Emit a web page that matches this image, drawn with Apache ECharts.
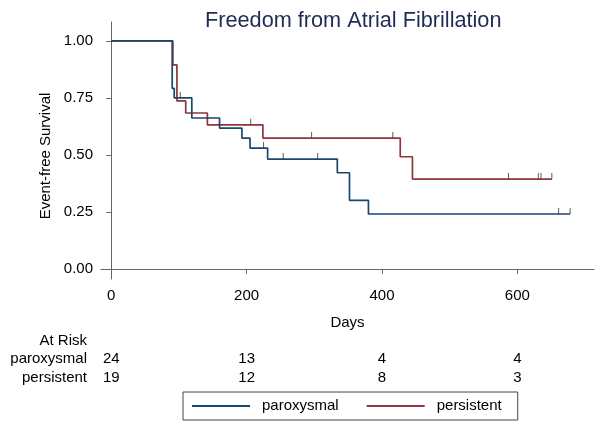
<!DOCTYPE html>
<html>
<head>
<meta charset="utf-8">
<script src="https://cdn.jsdelivr.net/npm/echarts@6/dist/echarts.min.js"></script>
<style>
html,body{margin:0;padding:0;background:#fff;}
#chart{width:601px;height:428px;}
</style>
</head>
<body>
<div id="chart"></div>
<script>
// ---- data ----
var paroxysmalSteps = [[0,1.0],[90,0.792],[93,0.75],[119,0.662],[160,0.618],[193,0.574],[205,0.530],[231,0.482],[334,0.422],[352,0.301],[380,0.241],[678,0.241]];
var persistentSteps = [[0,1.0],[91,0.895],[97,0.737],[110,0.684],[142,0.632],[224,0.574],[427,0.492],[445,0.394],[651,0.394]];
var paroxysmalCensored = [[102,0.75],[225,0.530],[254,0.482],[305,0.482],[661,0.241],[678,0.241]];
var persistentCensored = [[206,0.632],[296,0.574],[416,0.574],[587,0.394],[631,0.394],[635,0.394],[651,0.394]];
var xTicks = [0,200,400,600];
var yTicks = [0,0.25,0.5,0.75,1.0];
var atRiskTimes = [0,200,400,600];
var atRiskParoxysmal = [24,13,4,4];
var atRiskPersistent = [19,12,8,3];

var BLUE = '#1a476f', RED = '#90353b';
var FONT = 'Liberation Sans, Arial, sans-serif';

var chart = echarts.init(document.getElementById('chart'), null, {renderer:'canvas'});
var option = {
  backgroundColor:'#fff',
  animation:false,
  title:{text:'Freedom from Atrial Fibrillation', left:200, top:5,
    textStyle:{fontFamily:FONT, fontSize:21.7, fontWeight:'normal', color:'#1f2d55'}},
  grid:{left:101, right:7, top:22, bottom:149},
  legend:{
    data:[{name:'paroxysmal', icon:'rect'},{name:'persistent', icon:'rect'}],
    left:183, top:392, orient:'horizontal',
    borderColor:'#444', borderWidth:1, borderRadius:0,
    padding:[6,16,6,9], itemWidth:58, itemHeight:2, itemGap:28,
    textStyle:{fontFamily:FONT, fontSize:15, color:'#000', padding:[0,0,0,7], lineHeight:16}
  },
  xAxis:{type:'value', min:-15.2, max:713.3,
    name:'Days', nameLocation:'middle', nameGap:36,
    nameTextStyle:{fontFamily:FONT, fontSize:15, color:'#000'},
    axisLine:{show:true, lineStyle:{color:'#666', width:1}},
    axisTick:{show:true, customValues:xTicks, length:5, lineStyle:{color:'#666'}},
    axisLabel:{customValues:xTicks, margin:9, fontFamily:FONT, fontSize:15, color:'#000'},
    splitLine:{show:false}},
  yAxis:{type:'value', min:-0.044, max:1.083,
    axisLine:{show:true, lineStyle:{color:'#666', width:1}},
    axisTick:{show:true, customValues:yTicks, length:5, lineStyle:{color:'#666'}},
    axisLabel:{customValues:yTicks, margin:8, fontFamily:FONT, fontSize:15, color:'#000',
      formatter:function(v){return v.toFixed(2);}},
    splitLine:{show:false}},
  series:[
    {name:'paroxysmal', type:'line', step:'end', symbol:'none', data:paroxysmalSteps,
      lineStyle:{color:BLUE, width:1.7}, itemStyle:{color:BLUE}, z:3},
    {name:'persistent', type:'line', step:'end', symbol:'none', data:persistentSteps,
      lineStyle:{color:RED, width:1.7}, itemStyle:{color:RED}, z:2},
    {name:'pc', type:'scatter', data:paroxysmalCensored, symbol:'rect', symbolSize:[1,6], symbolOffset:[0,-3],
      itemStyle:{color:'#333'}, z:4, silent:true},
    {name:'rc', type:'scatter', data:persistentCensored, symbol:'rect', symbolSize:[1,6], symbolOffset:[0,-3],
      itemStyle:{color:'#333'}, z:4, silent:true}
  ]
};
chart.setOption(option);

var g = [];
var labelX = 87;
function txt(x,y,s,align){
  g.push({type:'text', x:x, y:y, style:{text:String(s), fontFamily:FONT, fontSize:15, fill:'#000',
    textAlign:align, textVerticalAlign:'middle'}});
}
g.push({type:'text', x:46, y:156, rotation:Math.PI/2,
  style:{text:'Event-free Survival', fontFamily:FONT, fontSize:15, fill:'#000', textAlign:'center', textVerticalAlign:'middle'}});
txt(labelX, 341, 'At Risk', 'right');
txt(labelX, 359, 'paroxysmal', 'right');
txt(labelX, 378, 'persistent', 'right');
for (var i=0;i<atRiskTimes.length;i++){
  var px = chart.convertToPixel({xAxisIndex:0}, atRiskTimes[i]);
  txt(px, 359, atRiskParoxysmal[i], 'center');
  txt(px, 378, atRiskPersistent[i], 'center');
}
chart.setOption({graphic:g});
</script>
</body>
</html>
